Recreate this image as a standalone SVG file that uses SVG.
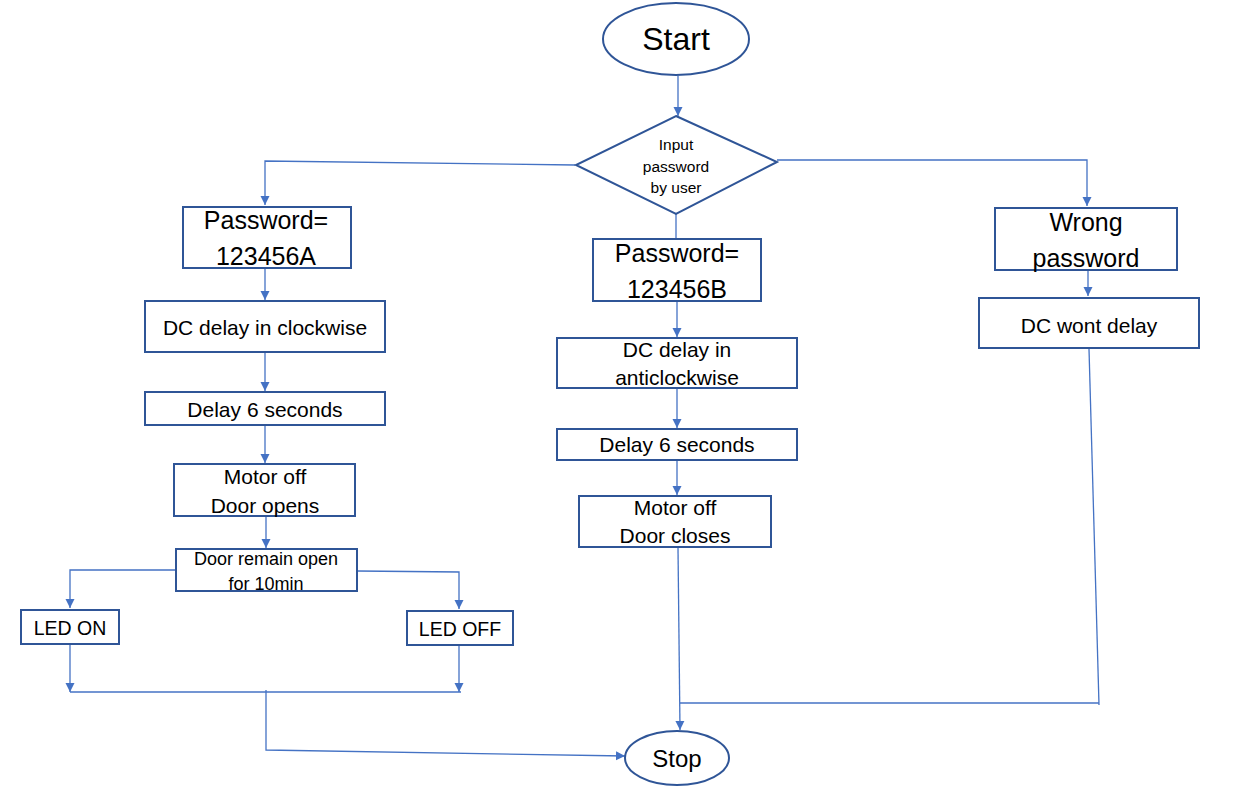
<svg xmlns="http://www.w3.org/2000/svg" width="1233" height="788" viewBox="0 0 1233 788">
<style>
.box{fill:#fff;stroke:#2F5597;stroke-width:2}
.c{fill:none;stroke:#4472C4;stroke-width:1.3}
text{font-family:"Liberation Sans",Arial,sans-serif;fill:#000;text-anchor:middle}
.t20{font-size:21px}
.t24{font-size:25px}
</style>
<defs>
<marker id="ah" markerUnits="userSpaceOnUse" markerWidth="10" markerHeight="10" refX="9" refY="5" orient="auto">
<path d="M0,0.5 L9,5 L0,9.5 Z" fill="#4472C4"/>
</marker>
</defs>
<rect width="1233" height="788" fill="#fff"/>
<g id="connectors">
<line class="c" x1="678" y1="76" x2="678" y2="116" marker-end="url(#ah)"/>
<polyline class="c" points="575,165 265,161 265,205" marker-end="url(#ah)"/>
<line class="c" x1="265" y1="262" x2="265" y2="300" marker-end="url(#ah)"/>
<line class="c" x1="265" y1="353" x2="265" y2="391" marker-end="url(#ah)"/>
<line class="c" x1="265" y1="426" x2="265" y2="463" marker-end="url(#ah)"/>
<line class="c" x1="266" y1="517" x2="266" y2="548" marker-end="url(#ah)"/>
<polyline class="c" points="176,570 70,570 70,608" marker-end="url(#ah)"/>
<polyline class="c" points="357,571 459,572 459,609" marker-end="url(#ah)"/>
<line class="c" x1="70" y1="645" x2="70" y2="692" marker-end="url(#ah)"/>
<line class="c" x1="459" y1="646" x2="459" y2="692" marker-end="url(#ah)"/>
<line class="c" x1="70" y1="692" x2="461" y2="692"/>
<polyline class="c" points="266,690 266,750 625,756" marker-end="url(#ah)"/>
<line class="c" x1="676" y1="214" x2="676" y2="239"/>
<line class="c" x1="677" y1="302" x2="677" y2="337" marker-end="url(#ah)"/>
<line class="c" x1="677" y1="389" x2="677" y2="428" marker-end="url(#ah)"/>
<line class="c" x1="677" y1="461" x2="677" y2="495" marker-end="url(#ah)"/>
<line class="c" x1="678" y1="548" x2="680" y2="730" marker-end="url(#ah)"/>
<polyline class="c" points="777,160 1087,160 1087,206" marker-end="url(#ah)"/>
<line class="c" x1="1088" y1="262" x2="1088" y2="296" marker-end="url(#ah)"/>
<polyline class="c" points="1089,349 1099,705"/>
<line class="c" x1="1099" y1="703" x2="680" y2="703"/>
</g>
<g id="start">
<ellipse class="box" cx="676" cy="39" rx="73" ry="36"/>
<text x="676" y="50" style="font-size:32px">Start</text>
</g>
<g id="input">
<polygon class="box" points="676,116 777,162 676,214 576,165"/>
<text x="676" y="150" style="font-size:15.5px">Input</text>
<text x="676" y="172" style="font-size:15.5px">password</text>
<text x="676" y="193" style="font-size:15.5px">by user</text>
</g>
<g id="pwA">
<rect class="box" x="183" y="207" width="168" height="61"/>
<text class="t24" x="266" y="229">Password=</text>
<text class="t24" x="266" y="265">123456A</text>
</g>
<g id="cw">
<rect class="box" x="145" y="301" width="240" height="51"/>
<text class="t20" x="265" y="335">DC delay in clockwise</text>
</g>
<g id="delayA">
<rect class="box" x="145" y="392" width="240" height="33"/>
<text class="t20" x="265" y="417">Delay 6 seconds</text>
</g>
<g id="opens">
<rect class="box" x="174" y="464" width="181" height="52"/>
<text class="t20" x="265" y="484">Motor off</text>
<text class="t20" x="265" y="513">Door opens</text>
</g>
<g id="remain">
<rect class="box" x="176" y="549" width="181" height="42"/>
<text x="266" y="565" style="font-size:18px">Door remain open</text>
<text x="266" y="590" style="font-size:18px">for 10min</text>
</g>
<g id="ledon">
<rect class="box" x="21" y="610" width="98" height="34"/>
<text x="70" y="635" style="font-size:19.5px">LED ON</text>
</g>
<g id="ledoff">
<rect class="box" x="407" y="611" width="106" height="34"/>
<text x="460" y="636" style="font-size:19.5px">LED OFF</text>
</g>
<g id="pwB">
<rect class="box" x="593" y="239" width="168" height="62"/>
<text class="t24" x="677" y="262">Password=</text>
<text class="t24" x="677" y="298">123456B</text>
</g>
<g id="acw">
<rect class="box" x="557" y="338" width="240" height="50"/>
<text class="t20" x="677" y="357">DC delay in</text>
<text class="t20" x="677" y="385">anticlockwise</text>
</g>
<g id="delayB">
<rect class="box" x="557" y="429" width="240" height="31"/>
<text class="t20" x="677" y="452">Delay 6 seconds</text>
</g>
<g id="closes">
<rect class="box" x="579" y="496" width="192" height="51"/>
<text class="t20" x="675" y="515">Motor off</text>
<text class="t20" x="675" y="543">Door closes</text>
</g>
<g id="wrong">
<rect class="box" x="995" y="208" width="182" height="62"/>
<text class="t24" x="1086" y="231">Wrong</text>
<text class="t24" x="1086" y="267">password</text>
</g>
<g id="wont">
<rect class="box" x="979" y="298" width="220" height="50"/>
<text class="t20" x="1089" y="333">DC wont delay</text>
</g>
<g id="stop">
<ellipse class="box" cx="677" cy="758" rx="52" ry="27"/>
<text x="677" y="767" style="font-size:24px">Stop</text>
</g>
</svg>
